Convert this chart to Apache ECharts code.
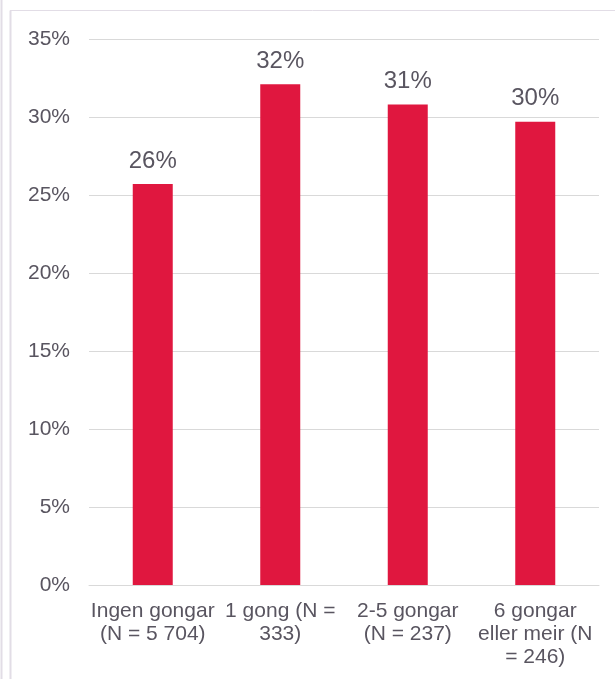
<!DOCTYPE html>
<html>
<head>
<meta charset="utf-8">
<script src="https://cdn.jsdelivr.net/npm/echarts@6/dist/echarts.min.js"></script>
<style>
  html, body { margin: 0; padding: 0; background: #fff; }
  #chart { width: 615px; height: 679px; }
</style>
</head>
<body>
<div id="chart"></div>
<script>
// categories and values (percent)
var categories = ['Ingen gongar\n(N = 5 704)', '1 gong (N =\n333)', '2-5 gongar\n(N = 237)', '6 gongar\neller meir (N\n= 246)'];
var values = [25.7, 32.1, 30.8, 29.7];
var yTicks = [0, 5, 10, 15, 20, 25, 30, 35];

var textColor = '#595560';
var font = '"Liberation Sans", Arial, sans-serif';

var myChart = echarts.init(document.getElementById('chart'));
myChart.setOption({
    animation: false,
    grid: { left: 89, right: 16, top: 39, bottom: 94, containLabel: false },
    graphic: [
        { type: 'line', shape: { x1: 1.5, y1: 0, x2: 1.5, y2: 679 }, style: { stroke: '#e2dde6', lineWidth: 2 } },
        { type: 'line', shape: { x1: 10.5, y1: 10.5, x2: 10.5, y2: 679 }, style: { stroke: '#e2dde6', lineWidth: 2 } },
        { type: 'line', shape: { x1: 10, y1: 10.5, x2: 615, y2: 10.5 }, style: { stroke: '#e2dde6', lineWidth: 1 } }
    ],
    xAxis: {
        type: 'category',
        data: categories,
        axisTick: { show: false },
        axisLine: { lineStyle: { color: '#d9d9d9', width: 1 } },
        axisLabel: {
            color: textColor, fontSize: 21, fontFamily: font,
            lineHeight: 23, margin: 15, interval: 0, hideOverlap: false
        }
    },
    yAxis: {
        type: 'value',
        min: yTicks[0],
        max: yTicks[yTicks.length - 1],
        interval: 5,
        axisLine: { show: false },
        axisTick: { show: false },
        splitLine: { lineStyle: { color: '#d9d9d9', width: 1 } },
        axisLabel: {
            color: textColor, fontSize: 21, fontFamily: font, margin: 19,
            formatter: function (v) { return v + '%'; }
        }
    },
    series: [{
        type: 'bar',
        data: values,
        barWidth: 40,
        itemStyle: { color: '#e0173f' },
        label: {
            show: true,
            position: 'top',
            distance: 11,
            color: textColor,
            fontSize: 24,
            fontFamily: font,
            formatter: function (p) { return Math.round(p.value) + '%'; }
        }
    }]
});
</script>
</body>
</html>
